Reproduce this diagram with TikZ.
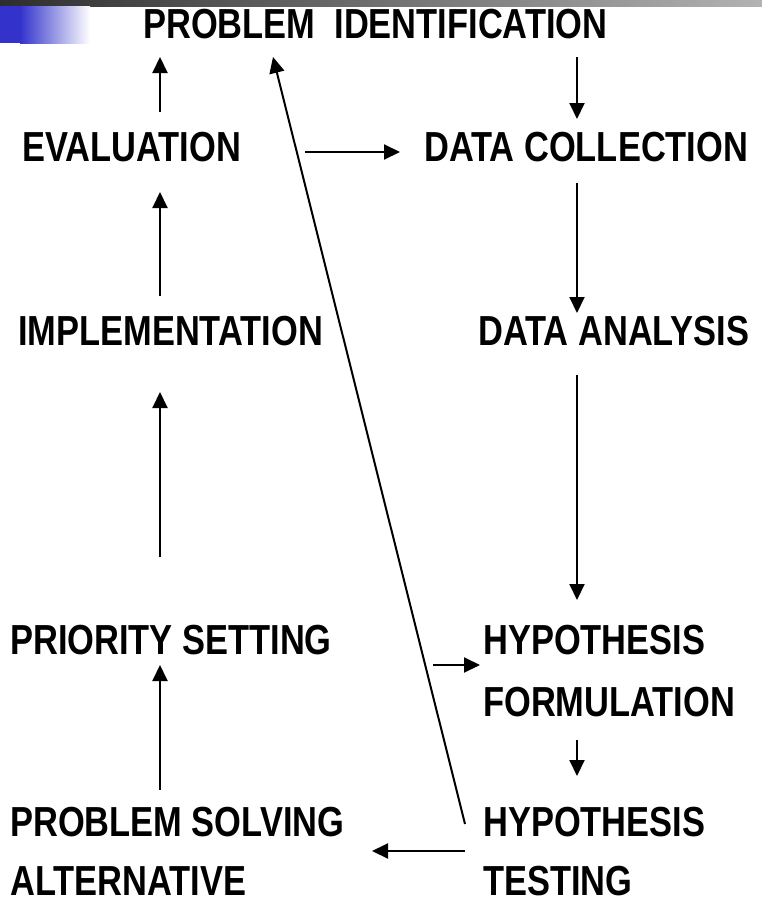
\documentclass[tikz,border=0pt]{standalone}
\usepackage{fontspec}
\setmainfont[FakeStretch=0.82]{Liberation Sans}
\usepackage{tikz}
\usetikzlibrary{arrows.meta}
\definecolor{barblue}{RGB}{51,51,204}

\begin{document}
\begin{tikzpicture}[x=1pt,y=-1pt]
\tikzstyle{lbl}=[anchor=base west,inner sep=0pt,align=left,
  font=\fontsize{42}{59}\selectfont\bfseries]
\tikzstyle{arr}=[line width=2pt,-{Triangle[length=16pt,width=15pt]}]
\useasboundingbox (0,0) rectangle (762,902);
% title bar
\shade[left color=black!82,right color=black!30] (0,0) rectangle (762,6);
\fill[barblue] (0,6) rectangle (20,43);
\shade[left color=barblue,right color=white] (20,6) rectangle (90,43);

% labels (base = last line)
\node[lbl] (ident) at (143,38) {PROBLEM\ \ IDENTIFICATION};
\node[lbl] (eval)  at (22,161)  {EVALUATION};
\node[lbl] (coll)  at (424,161) {DATA COLLECTION};
\node[lbl] (impl)  at (18,345)  {IMPLEMENTATION};
\node[lbl] (anal)  at (478,345) {DATA ANALYSIS};
\node[lbl] (prio)  at (10,654)  {PRIORITY SETTING};
\node[lbl] (form)  at (483,716) {HYPOTHESIS\\[3pt]FORMULATION};
\node[lbl] (solv)  at (10,895)  {PROBLEM SOLVING\\ALTERNATIVE};
\node[lbl] (test)  at (483,895) {HYPOTHESIS\\TESTING};

% arrow ends
\coordinate (a1) at (160,112); \coordinate (a1t) at (160,57);
\coordinate (a2) at (160,296); \coordinate (a2t) at (160,192);
\coordinate (a3) at (160,557); \coordinate (a3t) at (160,392);
\coordinate (a4) at (160,790); \coordinate (a4t) at (160,665);
\coordinate (b1) at (577,57);  \coordinate (b1t) at (577,119);
\coordinate (b2) at (577,183); \coordinate (b2t) at (577,313);
\coordinate (b3) at (577,375); \coordinate (b3t) at (577,600);
\coordinate (b4) at (577,740); \coordinate (b4t) at (577,776);
\coordinate (h1) at (305,152); \coordinate (h1t) at (400,152);
\coordinate (h2) at (433,665); \coordinate (h2t) at (480,665);
\coordinate (h3) at (465,851); \coordinate (h3t) at (372,851);
\coordinate (d1) at (465,824); \coordinate (d1t) at (273,57);

\draw[arr] (a1) -- (a1t);
\draw[arr] (a2) -- (a2t);
\draw[arr] (a3) -- (a3t);
\draw[arr] (a4) -- (a4t);
\draw[arr] (b1) -- (b1t);
\draw[arr] (b2) -- (b2t);
\draw[arr] (b3) -- (b3t);
\draw[arr] (b4) -- (b4t);
\draw[arr] (h1) -- (h1t);
\draw[arr] (h2) -- (h2t);
\draw[arr] (h3) -- (h3t);
\draw[arr] (d1) -- (d1t);
\end{tikzpicture}
\end{document}
